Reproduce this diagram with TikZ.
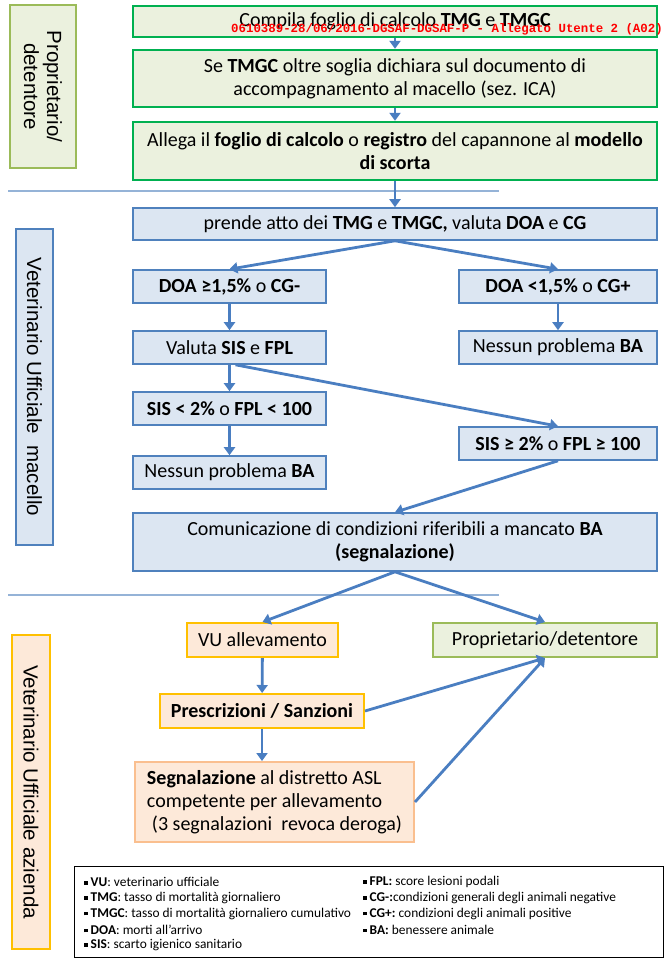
\documentclass[tikz,border=0pt]{standalone}
\usepackage{fontspec}
\setmainfont{Carlito}
\newfontfamily\lanefont{Liberation Sans}
\newfontfamily\stampfont{Liberation Mono}
\usetikzlibrary{arrows.meta,positioning}
\definecolor{grass}{RGB}{0,176,80}
\definecolor{sage}{RGB}{235,241,222}
\definecolor{olive}{RGB}{155,187,89}
\definecolor{steel}{RGB}{79,129,189}
\definecolor{mist}{RGB}{220,230,242}
\definecolor{gold}{RGB}{255,192,0}
\definecolor{peach}{RGB}{253,233,217}
\definecolor{apricot}{RGB}{250,191,143}
\definecolor{wire}{RGB}{74,126,193}
\definecolor{sepline}{RGB}{149,179,215}
\newcommand\mainsize{\fontsize{20}{23}\selectfont}
\newcommand\sq{\raisebox{1.8pt}{\rule{3.5pt}{3.5pt}}\hspace{3pt}}
\tikzset{
  >={Triangle[length=8pt,width=11pt]},
  owner/.style={draw=grass,line width=2.4pt,fill=sage,minimum width=524pt,
    align=center,font=\mainsize},
  vet/.style={draw=steel,line width=1.6pt,fill=mist,minimum width=#1,
    minimum height=33pt,align=center,font=\mainsize},
  vet/.default=524pt,
  farm/.style={draw=#1,line width=2pt,fill=peach,minimum height=34pt,
    align=center,font=\mainsize},
  farm/.default=gold,
  lane/.style={draw=#1,line width=2pt,rotate=-90,align=center,
    font=\lanefont\fontsize{20.5}{23}\selectfont},
  flow/.style={->,line width=2.8pt,draw=wire},
  sep/.style={draw=sepline,line width=1.5pt},
  key/.style={anchor=west,inner sep=0pt,font=\fontsize{13.4}{16}\selectfont},
}
\begin{document}
\begin{tikzpicture}[x=1pt,y=-1pt]
  \fill[white] (0,0) rectangle (666,959);
  \useasboundingbox (0,0) rectangle (666,959);
  % lanes
  \node[lane=olive,fill=sage,minimum width=163pt,minimum height=66pt] (ownlane) at (43,86.5) {Proprietario/\\detentore};
  \node[lane=steel,fill=mist,minimum width=316pt,minimum height=37pt] (vetlane) at (34.5,387) {Veterinario Ufficiale\ \ macello};
  \node[lane=gold,fill=peach,minimum width=314pt,minimum height=38pt] (farmlane) at (31,792) {Veterinario Ufficiale azienda};
  \draw[sep] (8,191) -- (499,191);
  \draw[sep] (8,595) -- (499,595);
  % owner
  \node[owner,minimum height=31pt] (b1) at (395,21.5) {Compila foglio di calcolo \textbf{TMG} e \textbf{TMGC}};
  \node[owner,minimum height=57pt] (b2) at (395,78.5) {Se \textbf{TMGC} oltre soglia dichiara sul documento di\\accompagnamento al macello (sez. ICA)};
  \node[owner,minimum height=58pt] (b3) at (395,151) {Allega il \textbf{foglio di calcolo} o \textbf{registro} del capannone al \textbf{modello}\\\textbf{di scorta}};
  \node[anchor=west,inner sep=0pt,text=red,font=\stampfont\bfseries\fontsize{12.4}{14}\selectfont] (stamp) at (231,29) {0610389-28/06/2016-DGSAF-DGSAF-P - Allegato Utente 2 (A02)};
  % slaughterhouse
  \node[vet,minimum height=32pt] (b4) at (395,224) {prende atto dei \textbf{TMG} e \textbf{TMGC,} valuta \textbf{DOA} e \textbf{CG}};
  \node[vet=193pt] (b5) at (229.5,286.5) {\textbf{DOA ≥1,5\%} o \textbf{CG-}};
  \node[vet=198pt] (b6) at (558,286.5) {\textbf{DOA <1,5\%} o \textbf{CG+}};
  \node[vet=193pt] (b7) at (229.5,347.5) {Valuta \textbf{SIS} e \textbf{FPL}};
  \node[vet=198pt] (b8) at (558,347.5) {Nessun problema \textbf{BA}};
  \node[vet=193pt] (b9) at (229.5,408.5) {\textbf{SIS < 2\%} o \textbf{FPL < 100}};
  \node[vet=198pt] (b10) at (558,443.5) {\textbf{SIS ≥ 2\%} o \textbf{FPL ≥ 100}};
  \node[vet=193pt] (b11) at (229.5,472.5) {Nessun problema \textbf{BA}};
  \node[vet,minimum height=58pt] (b12) at (395,542) {Comunicazione di condizioni riferibili a mancato \textbf{BA}\\\textbf{(segnalazione)}};
  % farm
  \node[farm,minimum width=151pt] (c1) at (262.5,640) {VU allevamento};
  \node[farm=olive,fill=sage,minimum width=224pt] (c2) at (545,640) {Proprietario/detentore};
  \node[farm,minimum width=204pt] (c3) at (262,711) {\textbf{Prescrizioni / Sanzioni}};
  \node[farm=apricot,minimum width=279pt,minimum height=80pt,align=left] (c4) at (274.5,802) {\textbf{Segnalazione} al distretto ASL\\competente per allevamento\\\hspace{5pt}(3 segnalazioni\ \ revoca deroga)};
  % connectors
  \draw[flow] (b1) -- (b2);
  \draw[flow] (b2) -- (b3);
  \draw[flow] (b3) -- (b4);
  \draw[flow] (b4.south) -- (b5.north);
  \draw[flow] (b4.south) -- (b6.north);
  \draw[flow] (b5) -- (b7);
  \draw[flow] (b6) -- (b8);
  \draw[flow] (b7) -- (b9);
  \draw[flow] ([xshift=6pt]b7.south) -- (b10.north);
  \draw[flow] (b9) -- (b11);
  \draw[flow] (b10.south) -- (b12.north);
  \draw[flow] (b12.south) -- (c1.north);
  \draw[flow] (b12.south) -- (c2.north);
  \draw[flow] (c1) -- (c3);
  \draw[flow] (c3.south) -- (c3.south |- c4.north);
  \draw[flow] (c3.east) -- (c2.south);
  \draw[flow] (c4.east) -- (c2.south);
  % legend
  \node[draw=black,line width=1pt,fill=white,minimum width=589pt,minimum height=91pt] (legend) at (368.5,911.5) {};
  \foreach \k/\v [count=\i from 0] in {VU/: veterinario ufficiale,TMG/: tasso di mortalità giornaliero,TMGC/: tasso di mortalità giornaliero cumulativo,DOA/: morti all’arrivo,SIS/: scarto igienico sanitario}
    \node[key] (kl\i) at (84,882+15.8*\i) {\sq\textbf{\k}\v};
  \foreach \k/\v [count=\i from 0] in {FPL:/~score lesioni podali,CG-:/condizioni generali degli animali negative,CG+:/~condizioni degli animali positive,BA:/~benessere animale}
    \node[key] (kr\i) at (363,882+15.8*\i) {\sq\textbf{\k}\v};
\end{tikzpicture}
\end{document}
